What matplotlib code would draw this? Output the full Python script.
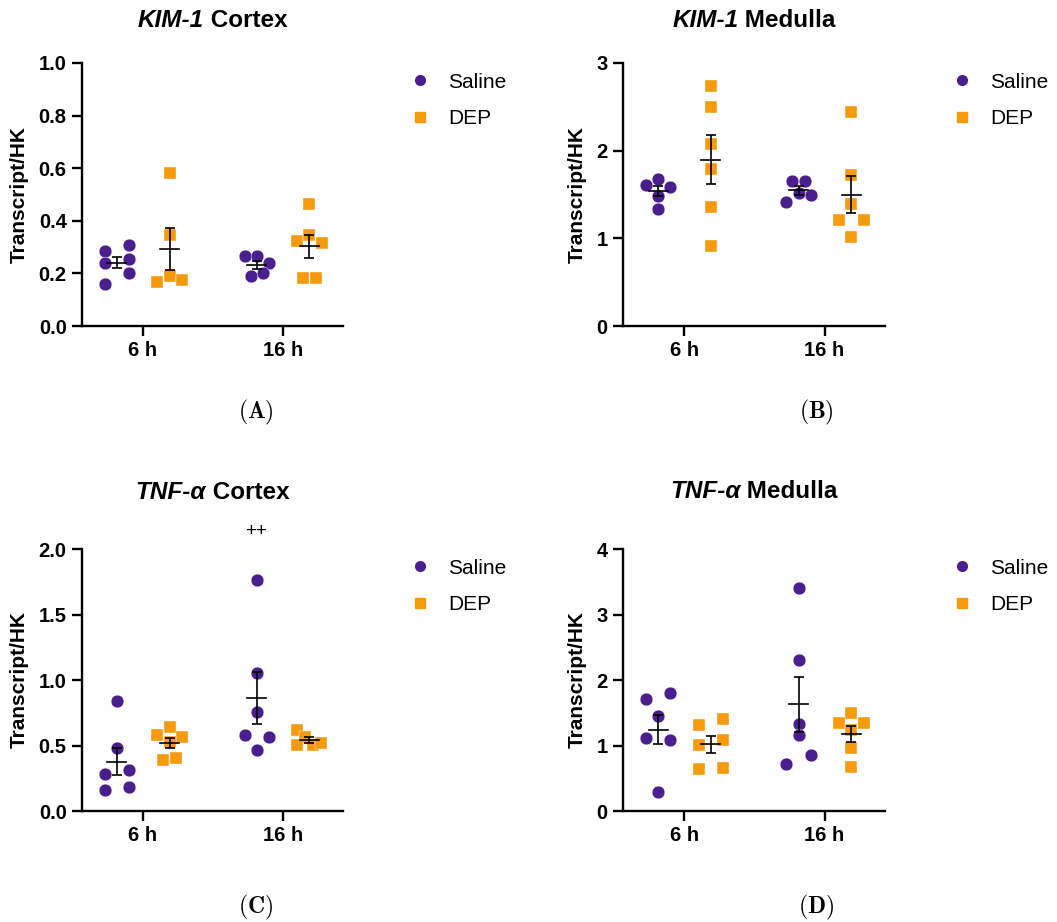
import numpy as np
import matplotlib.pyplot as plt
from matplotlib.lines import Line2D

plt.rcParams['font.family'] = ['Liberation Sans', 'DejaVu Sans']
plt.rcParams['mathtext.fontset'] = 'cm'

W, H = 1057, 922

times = ['6 h', '16 h']
groups = ['Saline', 'DEP']
colors = {'Saline': '#4b1e8e', 'DEP': '#f59a0c'}
markers = {'Saline': 'o', 'DEP': 's'}

# values, one list per (group, time)
# *_slot = horizontal slot of each point inside its column (scatter spread)
kim_cortex = {
    ('Saline', 0): [0.287, 0.239, 0.160, 0.308, 0.254, 0.200],
    ('DEP', 0): [0.581, 0.345, 0.190, 0.168, 0.175],
    ('Saline', 1): [0.266, 0.266, 0.241, 0.190, 0.200],
    ('DEP', 1): [0.464, 0.325, 0.345, 0.317, 0.181, 0.184],
}
kim_cortex_slot = {
    ('Saline', 0): [-1, -1, -1, 1, 1, 1],
    ('DEP', 0): [0, 0, 0, -1, 1],
    ('Saline', 1): [-1, 0, 1, -0.5, 0.5],
    ('DEP', 1): [0, -1, 0, 1, -0.5, 0.5],
}

kim_medulla = {
    ('Saline', 0): [1.610, 1.675, 1.591, 1.485, 1.332],
    ('DEP', 0): [2.741, 2.497, 2.078, 1.793, 1.363, 0.914],
    ('Saline', 1): [1.412, 1.656, 1.656, 1.515, 1.496],
    ('DEP', 1): [2.436, 1.724, 1.389, 1.210, 1.210, 1.013],
}
kim_medulla_slot = {
    ('Saline', 0): [-1, 0, 1, 0, 0],
    ('DEP', 0): [0, 0, 0, 0, 0, 0],
    ('Saline', 1): [-1, -0.5, 0.5, 0, 1],
    ('DEP', 1): [0, 0, 0, -1, 1, 0],
}

tnf_cortex = {
    ('Saline', 0): [0.841, 0.482, 0.280, 0.311, 0.158, 0.183],
    ('DEP', 0): [0.642, 0.578, 0.566, 0.527, 0.392, 0.408],
    ('Saline', 1): [1.763, 1.050, 0.757, 0.583, 0.566, 0.464],
    ('DEP', 1): [0.617, 0.566, 0.502, 0.502, 0.520],
}
tnf_cortex_slot = {
    ('Saline', 0): [0, 0, -1, 1, -1, 1],
    ('DEP', 0): [0, -1, 1, 0, -0.5, 0.5],
    ('Saline', 1): [0, 0, 0, -1, 1, 0],
    ('DEP', 1): [-1, -0.4, -1, 0.3, 0.9],
}

tnf_medulla = {
    ('Saline', 0): [1.712, 1.809, 1.452, 1.121, 1.080, 0.290],
    ('DEP', 0): [1.320, 1.406, 1.004, 1.090, 0.637, 0.657],
    ('Saline', 1): [3.399, 2.298, 1.335, 1.167, 0.713, 0.851],
    ('DEP', 1): [1.503, 1.345, 1.345, 1.233, 0.963, 0.673],
}
tnf_medulla_slot = {
    ('Saline', 0): [-1, 1, 0, -1, 1, 0],
    ('DEP', 0): [-1, 1, -1, 1, -1, 1],
    ('Saline', 1): [0, 0, 0, 0, -1, 1],
    ('DEP', 1): [0, -1, 1, 0, 0, 0],
}

panels = [
    # data, slots, ymax, yticks, tick format, gene, tissue, letter
    (kim_cortex, kim_cortex_slot, 1.0, np.arange(0, 1.01, 0.2), '{:.1f}', 'KIM-1', ' Cortex', 'A'),
    (kim_medulla, kim_medulla_slot, 3, [0, 1, 2, 3], '{:.0f}', 'KIM-1', ' Medulla', 'B'),
    (tnf_cortex, tnf_cortex_slot, 2.0, np.arange(0, 2.01, 0.5), '{:.1f}', 'TNF-α', ' Cortex', 'C'),
    (tnf_medulla, tnf_medulla_slot, 4, [0, 1, 2, 3, 4], '{:.0f}', 'TNF-α', ' Medulla', 'D'),
]

# axes boxes in pixels: left, top, right, bottom
boxes = [(82, 63, 343, 326), (623, 63, 885, 326), (82, 549, 343, 811), (623, 549, 885, 811)]
title_y = [27, 27, 499, 498]
letter_pos = [(256, 412), (816, 412), (256, 907), (816, 907)]

group_off = {'Saline': -0.186, 'DEP': 0.19}
slot_w = 0.088

fig = plt.figure(figsize=(W / 100, H / 100), dpi=100)
renderer = fig.canvas.get_renderer()


def two_part_title(xc, yb, ital, rest, size=17.5):
    t1 = fig.text(0, 0, ital, style='italic', weight='bold', size=size, va='baseline')
    t2 = fig.text(0, 0, rest, weight='bold', size=size, va='baseline')
    w1 = t1.get_window_extent(renderer).width
    w2 = t2.get_window_extent(renderer).width
    x0 = xc - (w1 + w2) / 2
    t1.set_position((x0 / W, 1 - yb / H))
    t2.set_position(((x0 + w1) / W, 1 - yb / H))


for i, (data, slots, ymax, yticks, fmt, gene, tissue, letter) in enumerate(panels):
    l, t, r, b = boxes[i]
    ax = fig.add_axes([l / W, 1 - b / H, (r - l) / W, (b - t) / H])

    for g in groups:
        for ti in range(2):
            vals = np.array(data[(g, ti)])
            xs = ti + group_off[g] + slot_w * np.array(slots[(g, ti)])
            ax.plot(xs, vals, ls='none', marker=markers[g], ms=9.2, color=colors[g],
                    mec='white', mew=0.3, zorder=2)
            m = vals.mean()
            sem = vals.std(ddof=1) / np.sqrt(len(vals))
            xc = ti + group_off[g]
            ax.plot([xc - 0.068, xc + 0.068], [m, m], color='black', lw=1.2, zorder=3)
            ax.errorbar(xc, m, yerr=sem, fmt='none', ecolor='black', elinewidth=1.2,
                        capsize=3.6, capthick=1.2, zorder=3)

    ax.set_xlim(-0.436, 1.43)
    ax.set_ylim(0, ymax)
    ax.set_xticks([0, 1])
    ax.set_xticklabels(times)
    ax.set_yticks(yticks)
    ax.set_yticklabels([fmt.format(v) for v in yticks])
    for s in ['top', 'right']:
        ax.spines[s].set_visible(False)
    for s in ['left', 'bottom']:
        ax.spines[s].set_linewidth(1.7)
        ax.spines[s].set_clip_on(False)
    ax.tick_params(length=7, width=1.7, labelsize=14.5, pad=4)
    for lab in ax.get_xticklabels() + ax.get_yticklabels():
        lab.set_fontweight('bold')
    ax.set_ylabel('Transcript/HK', fontsize=15, fontweight='bold', labelpad=7)

    handles = [Line2D([], [], ls='none', marker=markers[g], ms=7, color=colors[g]) for g in groups]
    ax.legend(handles, groups, loc='upper left', frameon=False, fontsize=15,
              bbox_to_anchor=((r + 48) / W, 1 - (t - 9) / H), bbox_transform=fig.transFigure,
              handlelength=1.0, handletextpad=0.86, labelspacing=0.85, borderpad=0.4)

    two_part_title((l + r) / 2, title_y[i], gene, tissue)
    lx, ly = letter_pos[i]
    fig.text(lx / W, 1 - ly / H, r'$\mathbf{(%s)}$' % letter, fontsize=17, ha='center', va='center')

fig.text(256 / W, 1 - 531 / H, '++', fontsize=13.5, ha='center', va='center')

fig.savefig('out.png', dpi=100)
